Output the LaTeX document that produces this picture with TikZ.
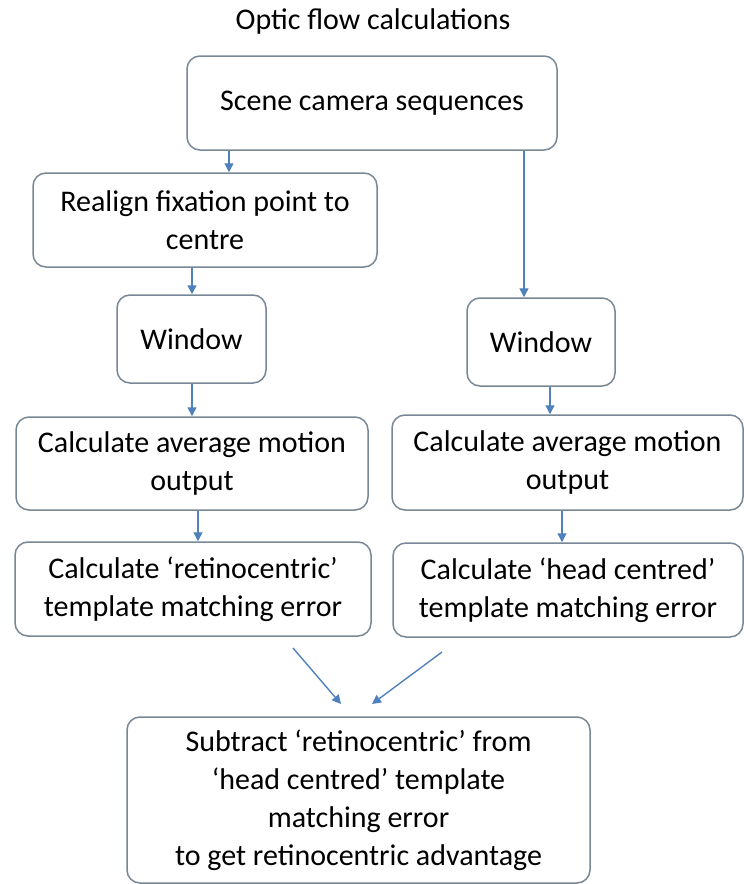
\documentclass[tikz,border=0pt]{standalone}
\usepackage{fontspec}
\setmainfont{Carlito}
\usetikzlibrary{arrows.meta}
\definecolor{boxline}{RGB}{120,135,150}
\definecolor{flowblue}{RGB}{79,129,189}

\begin{document}
\begin{tikzpicture}[x=0.5pt,y=-0.5pt,font=\fontsize{15}{19}\selectfont,
	flow/.style={draw=flowblue,line width=0.7pt,-{Triangle[length=4.5pt,width=4.5pt]}}]
	\useasboundingbox (0,0) rectangle (744,884);
	\node (title) at (373,22) {Optic flow calculations};
	\begin{scope}[every node/.style={draw=boxline,line width=0.75pt,rounded corners=6.5pt,align=center,inner sep=0pt}]
	\node[minimum width=185pt,minimum height=47pt] (scene) at (372,103) {Scene camera sequences};
	\node[minimum width=172pt,minimum height=47pt] (realign) at (205,220) {Realign fixation point to\\centre};
	\node[minimum width=74.5pt,minimum height=44pt] (winl) at (191.5,339) {Window};
	\node[minimum width=74pt,minimum height=44pt] (winr) at (541,342) {Window};
	\node[minimum width=176pt,minimum height=46.5pt] (calcl) at (192,463.5) {Calculate average motion\\output};
	\node[minimum width=175.5pt,minimum height=47.5pt] (calcr) at (567.5,462.5) {Calculate average motion\\output};
	\node[minimum width=178pt,minimum height=47pt] (retl) at (193,589) {Calculate `retinocentric'\\template matching error};
	\node[minimum width=175pt,minimum height=47pt] (retr) at (568,590) {Calculate `head centred'\\template matching error};
	\node[minimum width=231.5pt,minimum height=83pt] (subtr) at (358.5,800) {Subtract `retinocentric' from\\`head centred' template\\matching error\\to get retinocentric advantage};
	\end{scope}
	\coordinate (colA) at (229,0);
	\coordinate (colB) at (524,0);
	\coordinate (colC) at (192,0);
	\coordinate (colD) at (198,0);
	\coordinate (colE) at (550,0);
	\coordinate (colF) at (562,0);
	\coordinate (ls) at (293,648);
	\coordinate (le) at (341,704);
	\coordinate (rs) at (442,652);
	\coordinate (re) at (372,704);
	\draw[flow] (scene.south -| colA) -- (realign.north -| colA);
	\draw[flow] (scene.south -| colB) -- (winr.north -| colB);
	\draw[flow] (realign.south -| colC) -- (winl.north -| colC);
	\draw[flow] (winl.south -| colC) -- (calcl.north -| colC);
	\draw[flow] (calcl.south -| colD) -- (retl.north -| colD);
	\draw[flow] (winr.south -| colE) -- (calcr.north -| colE);
	\draw[flow] (calcr.south -| colF) -- (retr.north -| colF);
	\draw[flow] (ls) -- (le);
	\draw[flow] (rs) -- (re);
\end{tikzpicture}
\end{document}
